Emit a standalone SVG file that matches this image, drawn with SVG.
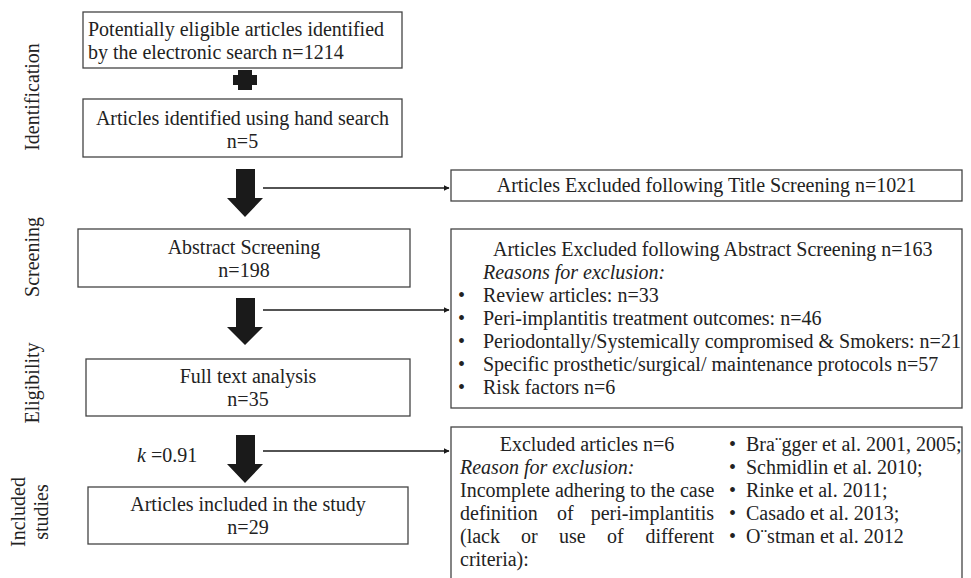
<svg xmlns="http://www.w3.org/2000/svg" width="971" height="578" viewBox="0 0 971 578">
<defs>
<style>
text{font-family:"Liberation Serif","Times New Roman",serif;font-size:20px;fill:#222;}
.c{text-anchor:middle;}
.i{font-style:italic;}
.box{fill:#fff;stroke:#444;stroke-width:1.3;}
.blk{fill:#1a1a1a;}
.ln{stroke:#1a1a1a;stroke-width:1.5;fill:none;marker-end:url(#ah);}
</style>
<marker id="ah" viewBox="0 0 10 10" refX="9" refY="5" markerWidth="6" markerHeight="6" markerUnits="userSpaceOnUse" orient="auto">
<path d="M0,0 L10,5 L0,10 z" fill="#1a1a1a"/>
</marker>
</defs>
<rect width="971" height="578" fill="#fff"/>

<g id="phase-labels">
<text class="c" transform="translate(39,97) rotate(-90)">Identification</text>
<text class="c" transform="translate(39,257) rotate(-90)">Screening</text>
<text class="c" transform="translate(39,383) rotate(-90)">Eligibility</text>
<text class="c" transform="translate(25,512) rotate(-90)">Included</text>
<text class="c" transform="translate(48,512) rotate(-90)">studies</text>
</g>

<g id="electronic">
<rect class="box" x="83" y="12" width="319" height="56"/>
<text x="88" y="35.5">Potentially eligible articles identified</text>
<text x="88" y="58.5">by the electronic search n=1214</text>
</g>

<g id="plus">
<path class="blk" d="M238,70 H252 V75 H257 V85 H252 V90 H238 V85 H233 V75 H238 Z"/>
</g>

<g id="hand">
<rect class="box" x="83" y="99" width="319" height="58"/>
<text class="c" x="242.5" y="124.5">Articles identified using hand search</text>
<text class="c" x="242.5" y="147.5">n=5</text>
</g>

<g id="abstract">
<rect class="box" x="78" y="229" width="332" height="58"/>
<text class="c" x="244" y="253.5">Abstract Screening</text>
<text class="c" x="244" y="276.5">n=198</text>
</g>

<g id="fulltext">
<rect class="box" x="86" y="359" width="324" height="57"/>
<text class="c" x="248" y="383">Full text analysis</text>
<text class="c" x="248" y="406">n=35</text>
</g>

<g id="included">
<rect class="box" x="88" y="487" width="320" height="57"/>
<text class="c" x="248" y="511">Articles included in the study</text>
<text class="c" x="248" y="534">n=29</text>
</g>

<g id="kappa">
<text x="137" y="462"><tspan class="i">k</tspan> =0.91</text>
</g>

<g id="title-excl">
<rect class="box" x="451" y="170" width="511" height="31"/>
<text class="c" x="706.5" y="192">Articles Excluded following Title Screening n=1021</text>
</g>

<g id="abstract-excl">
<rect class="box" x="451" y="229" width="511" height="179"/>
<text x="493" y="255.5">Articles Excluded following Abstract Screening n=163</text>
<text class="i" x="483" y="278.5">Reasons for exclusion:</text>
<text x="458" y="301.5">•</text><text x="483" y="301.5">Review articles: n=33</text>
<text x="458" y="324.5">•</text><text x="483" y="324.5">Peri-implantitis treatment outcomes: n=46</text>
<text x="458" y="347.5">•</text><text x="483" y="347.5">Periodontally/Systemically compromised &amp; Smokers: n=21</text>
<text x="458" y="370.5">•</text><text x="483" y="370.5">Specific prosthetic/surgical/ maintenance protocols n=57</text>
<text x="458" y="393.5">•</text><text x="483" y="393.5">Risk factors n=6</text>
</g>

<g id="fulltext-excl">
<rect class="box" x="451" y="427" width="511" height="160"/>
<text class="c" x="587" y="451">Excluded articles n=6</text>
<text class="i" x="460" y="474">Reason for exclusion:</text>
<text x="460" y="497">Incomplete adhering to the case</text>
<text y="520"><tspan x="460">definition</tspan><tspan x="557">of</tspan><tspan x="714" text-anchor="end">peri-implantitis</tspan></text>
<text y="543"><tspan x="460">(lack</tspan><tspan x="521">or</tspan><tspan x="559">use</tspan><tspan x="607">of</tspan><tspan x="714" text-anchor="end">different</tspan></text>
<text x="460" y="566">criteria):</text>
<text x="729" y="451">•</text><text x="746" y="451">Bra¨gger et al. 2001, 2005;</text>
<text x="729" y="474">•</text><text x="746" y="474">Schmidlin et al. 2010;</text>
<text x="729" y="497">•</text><text x="746" y="497">Rinke et al. 2011;</text>
<text x="729" y="520">•</text><text x="746" y="520">Casado et al. 2013;</text>
<text x="729" y="543">•</text><text x="746" y="543">O¨stman et al. 2012</text>
</g>

<g id="connectors">
<path class="blk" d="M236,169 H255 V198 H263 L245,217 L227,198 H236 Z"/>
<path class="blk" d="M236,298 H255 V327 H263 L245,345 L227,327 H236 Z"/>
<path class="blk" d="M236,435 H255 V464 H263 L245,483 L227,464 H236 Z"/>
<line class="ln" x1="263" y1="188" x2="449" y2="188"/>
<line class="ln" x1="263" y1="310" x2="449" y2="310"/>
<line class="ln" x1="263" y1="451" x2="449" y2="451"/>
</g>
</svg>
